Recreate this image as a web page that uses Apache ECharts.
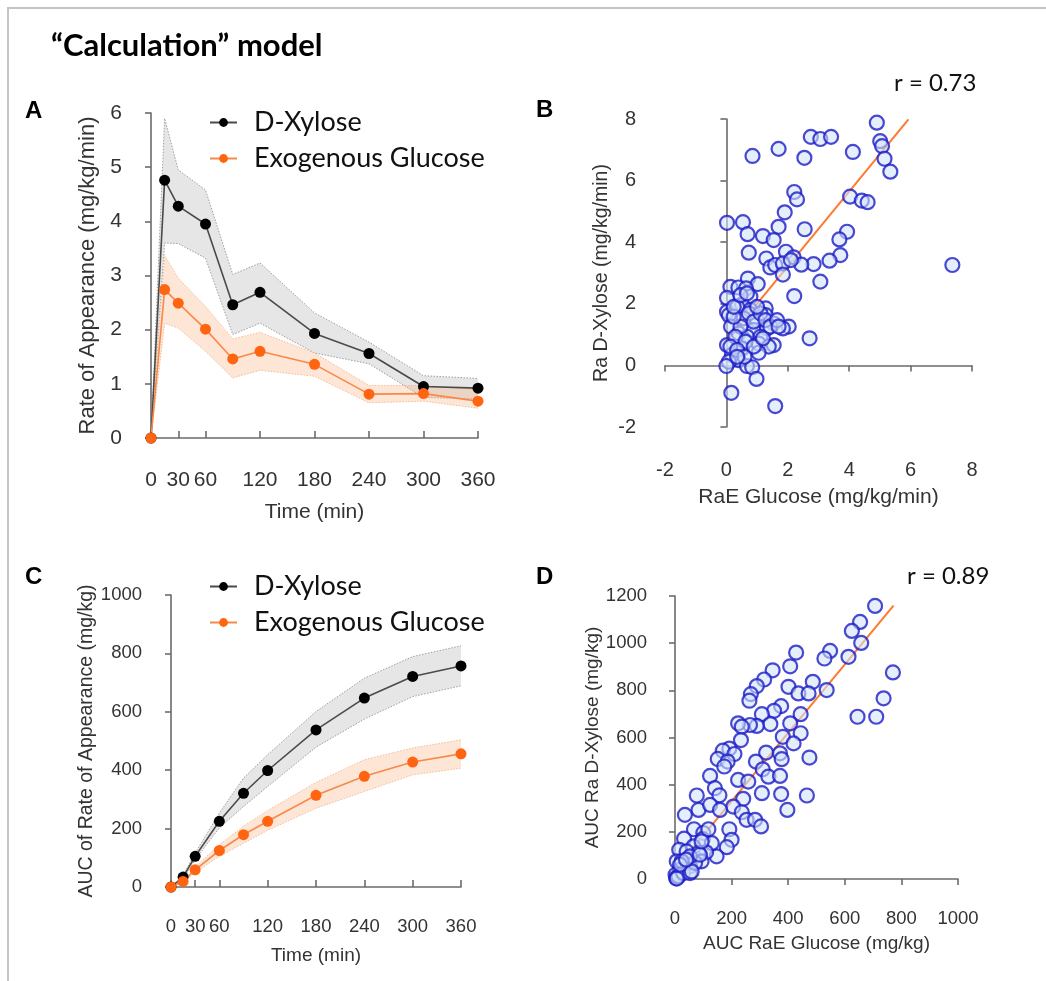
<!DOCTYPE html>
<html>
<head>
<meta charset="utf-8">
<script src="https://cdn.jsdelivr.net/npm/echarts@6.0.0/dist/echarts.min.js"></script>
<style>
html,body{margin:0;padding:0;background:#fff;}
#chart{width:1046px;height:981px;}
</style>
</head>
<body>
<div id="chart"></div>
<script>
// ---------- data ----------
const timeMin = [0, 15, 30, 60, 90, 120, 180, 240, 300, 360];
const timeTicks = [0, 30, 60, 120, 180, 240, 300, 360];

// Panel A: rate of appearance (mg/kg/min)
const xyloseRate      = [0, 4.76, 4.28, 3.95, 2.46, 2.69, 1.93, 1.56, 0.95, 0.92];
const xyloseRateUpper = [0, 5.90, 4.95, 4.58, 3.02, 3.23, 2.31, 1.77, 1.15, 1.10];
const xyloseRateLower = [0, 3.60, 3.59, 3.32, 1.91, 2.12, 1.57, 1.37, 0.75, 0.72];
const glucoseRate      = [0, 2.74, 2.49, 2.01, 1.46, 1.60, 1.36, 0.81, 0.82, 0.68];
const glucoseRateUpper = [0, 3.37, 2.95, 2.43, 1.83, 1.95, 1.57, 0.97, 0.97, 0.89];
const glucoseRateLower = [0, 2.12, 2.03, 1.60, 1.11, 1.25, 1.14, 0.65, 0.68, 0.55];

// Panel C: AUC of rate of appearance (mg/kg)
const xyloseAuc      = [0, 34, 105, 225, 321, 399, 538, 647, 721, 757];
const xyloseAucUpper = [0, 40, 116, 253, 373, 453, 601, 715, 789, 826];
const xyloseAucLower = [0, 28, 94, 202, 276, 344, 479, 575, 652, 689];
const glucoseAuc      = [0, 19, 59, 125, 179, 225, 314, 379, 428, 456];
const glucoseAucUpper = [0, 24, 68, 145, 208, 262, 358, 436, 476, 504];
const glucoseAucLower = [0, 15, 50, 105, 150, 194, 270, 327, 384, 407];

// Panel B: RaE glucose vs Ra D-xylose (mg/kg/min)
const rateScatter = [
  [4.90,7.88],[2.75,7.42],[3.06,7.35],[3.41,7.42],[5.01,7.28],[5.07,7.12],[1.70,7.03],[0.85,6.80],
  [2.54,6.74],[4.12,6.93],[5.15,6.71],[5.34,6.29],[2.21,5.63],[2.30,5.39],[4.03,5.48],[4.41,5.35],
  [4.60,5.30],[1.90,4.97],[0.02,4.63],[0.54,4.65],[1.70,4.50],[2.55,4.42],[0.69,4.26],[1.19,4.20],
  [1.54,4.07],[3.93,4.34],[3.68,4.09],[0.73,3.66],[1.94,3.69],[2.19,3.51],[1.30,3.47],[3.71,3.58],
  [3.36,3.40],[2.84,3.29],[2.44,3.27],[1.43,3.18],[1.59,3.26],[1.84,3.31],[2.10,3.42],[1.84,2.95],
  [3.06,2.72],[7.36,3.26],[0.70,2.82],[1.02,2.64],[0.13,2.55],[0.39,2.53],[0.64,2.50],[0.78,2.23],
  [0.02,2.19],[2.21,2.25],[0.51,1.98],[0.02,1.74],[0.08,1.63],[1.28,1.85],[1.28,1.63],[0.78,1.80],
  [0.56,1.53],[1.00,1.47],[1.54,1.36],[2.03,1.26],[1.84,1.20],[0.15,1.26],[0.89,1.15],[1.32,1.20],
  [0.40,1.04],[0.67,0.93],[1.11,0.93],[2.71,0.88],[1.05,0.71],[0.02,0.66],[0.51,0.55],[1.54,0.66],
  [1.38,0.61],[1.05,0.41],[0.18,0.34],[0.40,0.17],[0.08,0.12],[0.67,-0.02],[0.00,-0.02],[0.84,-0.06],
  [0.98,-0.44],[0.16,-0.89],[1.59,-1.32],[0.35,1.90],[0.46,1.26],[0.73,1.69],[0.89,1.42],[1.11,1.69],
  [1.27,1.47],[1.43,1.26],[1.65,1.47],[1.70,1.26],[0.24,1.58],[0.29,0.93],[0.62,0.77],[0.13,0.61],
  [0.35,0.50],[0.89,0.61],[0.59,0.28],[1.19,0.88],[0.24,1.90],[0.46,2.28],[0.67,2.34],[1.00,1.90],
  [0.35,0.28]
];
const rateFit = [[0, 0.79], [5.93, 7.99]];
const rateR = 'r = 0.73';

// Panel D: AUC RaE glucose vs AUC Ra D-xylose (mg/kg)
const aucScatter = [
  [707,1158],[654,1090],[625,1052],[658,1001],[613,942],[428,960],[548,967],[528,935],[345,885],
  [407,902],[315,846],[289,818],[487,836],[401,815],[536,801],[436,787],[472,787],[268,784],[263,756],
  [770,876],[737,766],[645,688],[711,688],[375,733],[350,713],[307,699],[444,699],[337,657],[289,649],
  [265,653],[223,660],[236,646],[407,660],[444,618],[381,603],[419,575],[233,589],[322,536],[371,533],
  [377,508],[475,515],[286,498],[192,553],[169,544],[151,509],[210,530],[186,498],[310,465],[330,434],
  [371,437],[124,437],[174,477],[141,385],[157,355],[223,420],[259,413],[241,340],[307,364],[375,360],
  [466,354],[397,293],[77,354],[83,293],[124,314],[206,307],[159,293],[236,283],[253,251],[283,251],
  [304,223],[192,211],[200,166],[183,135],[147,96],[35,272],[67,211],[32,171],[100,195],[98,169],
  [130,152],[110,113],[65,138],[15,124],[41,117],[83,110],[94,75],[53,54],[6,75],[18,39],[2,18],
  [4,4],[12,11],[29,25],[53,25],[71,68],[53,96],[24,75],[6,2],[59,32],[18,61],[39,82],[88,103],
  [118,211],[94,159]
];
const aucFit = [[0, 40], [772, 1159]];
const aucR = 'r = 0.89';

// ---------- styles ----------
const AX = 'Liberation Sans, Arial, sans-serif';
const CAL = 'Lato, Carlito, sans-serif';
const axisCol = '#6b6b6b';
const txtCol = '#333333';
const blackLine = '#4a4a4a', blackDot = '#000000';
const orangeLine = '#f7894a', orangeDot = '#ff6511';
const grayBand = 'rgba(190,190,190,0.38)', orangeBand = 'rgba(252,165,110,0.28)';
const bandEdge = '#a0a0a0', orangeEdge = '#f5bc98';

const pair = (xs, ys) => xs.map((x, i) => [x, ys[i]]);

function valueAxis(extra, labelSize, nameSize, labelMargin) {
  return Object.assign({
    type: 'value',
    axisLine: { show: true, lineStyle: { color: axisCol, width: 1.6 } },
    axisTick: { show: true, length: 6, lineStyle: { color: axisCol, width: 1.6 } },
    axisLabel: { color: txtCol, fontFamily: AX, fontSize: labelSize, margin: labelMargin, formatter: v => String(v) },
    splitLine: { show: false },
    nameTextStyle: { color: txtCol, fontFamily: AX, fontSize: nameSize },
    nameLocation: 'middle'
  }, extra);
}
function timeAxis(gridIndex, gap, labelSize, nameSize, labelMargin) {
  return valueAxis({
    gridIndex, min: 0, max: 360, interval: 30, offset: 21,
    name: 'Time (min)', nameGap: gap,
    axisTick: { show: true, inside: true, length: 7, customValues: timeTicks, lineStyle: { color: axisCol, width: 1.6 } },
    axisLabel: { color: txtCol, fontFamily: AX, fontSize: labelSize, margin: labelMargin, customValues: timeTicks, formatter: v => String(v) }
  }, labelSize, nameSize, labelMargin);
}

// shaded SEM band drawn as a polygon through the library's coordinate mapping
function bandSeries(axisIdx, lower, upper, fill, edge) {
  return {
    type: 'custom', xAxisIndex: axisIdx, yAxisIndex: axisIdx, silent: true, z: 1,
    data: timeMin.map((t, i) => [t, lower[i], upper[i]]),
    encode: { x: 0, y: [1, 2] },
    renderItem: function (params, api) {
      if (params.dataIndex !== 0) return null;
      const up = timeMin.map((t, i) => api.coord([t, upper[i]]));
      const lo = timeMin.map((t, i) => api.coord([t, lower[i]]));
      return {
        type: 'group',
        children: [
          { type: 'polygon', shape: { points: up.concat(lo.slice().reverse()) },
            style: { fill: fill, stroke: null } },
          { type: 'polyline', shape: { points: up },
            style: { fill: null, stroke: edge, lineWidth: 1, lineDash: [1.5, 1.5] } },
          { type: 'polyline', shape: { points: lo },
            style: { fill: null, stroke: edge, lineWidth: 1, lineDash: [1.5, 1.5] } }
        ]
      };
    }
  };
}
function meanSeries(name, axisIdx, vals, lineCol, dotCol) {
  return { name, type: 'line', xAxisIndex: axisIdx, yAxisIndex: axisIdx, data: pair(timeMin, vals),
    symbol: 'circle', symbolSize: 11, z: 5,
    lineStyle: { color: lineCol, width: 1.6 }, itemStyle: { color: dotCol } };
}
function scatterSeries(axisIdx, data) {
  return { type: 'scatter', xAxisIndex: axisIdx, yAxisIndex: axisIdx, data, symbolSize: 14, z: 3,
    itemStyle: { color: 'rgba(210,228,250,0.72)', borderColor: '#1c1cc6', borderWidth: 2.2 } };
}
function fitSeries(axisIdx, data) {
  return { type: 'line', xAxisIndex: axisIdx, yAxisIndex: axisIdx, data, symbol: 'none', z: 2,
    lineStyle: { color: '#ff7a2e', width: 2 } };
}

const legendStyle = {
  orient: 'vertical', itemWidth: 27, itemHeight: 11, itemGap: 9,
  textStyle: { fontFamily: CAL, fontSize: 27, color: '#111', padding: [0, 0, 0, 12] },
  data: ['D-Xylose', 'Exogenous Glucose']
};

const option = {
  backgroundColor: '#ffffff',
  animation: false,
  title: { text: '\u201cCalculation\u201d model', left: 46, top: 25,
    textStyle: { fontFamily: CAL, fontWeight: 'bold', fontSize: 31, color: '#000' } },
  legend: [
    Object.assign({ left: 204, top: 104 }, legendStyle),
    Object.assign({ left: 204, top: 568 }, legendStyle)
  ],
  grid: [
    { left: 151, right: 568, top: 113, bottom: 543 },
    { left: 665, right: 74, top: 119, bottom: 554 },
    { left: 171, right: 585, top: 595, bottom: 94 },
    { left: 675, right: 88, top: 596, bottom: 102 }
  ],
  xAxis: [
    timeAxis(0, 43, 21, 21, 11),
    valueAxis({ gridIndex: 1, min: -2, max: 8, interval: 2, offset: 22,
      name: 'RaE Glucose (mg/kg/min)', nameGap: 38 }, 20, 21, 11),
    timeAxis(2, 38, 18.5, 19, 9),
    valueAxis({ gridIndex: 3, min: 0, max: 1000, interval: 200, offset: 21,
      name: 'AUC RaE Glucose (mg/kg)', nameGap: 34 }, 18.5, 19, 9)
  ],
  yAxis: [
    valueAxis({ gridIndex: 0, min: 0, max: 6, interval: 1, offset: 22,
      name: 'Rate of Appearance (mg/kg/min)', nameGap: 30 }, 21, 22, 7),
    valueAxis({ gridIndex: 1, min: -2, max: 8, interval: 2, offset: 22,
      name: 'Ra D-Xylose (mg/kg/min)', nameGap: 31 }, 20, 19.5, 7),
    valueAxis({ gridIndex: 2, min: 0, max: 1000, interval: 200, offset: 21,
      name: 'AUC of Rate of Appearance (mg/kg)', nameGap: 43 }, 18.5, 19.5, 8),
    valueAxis({ gridIndex: 3, min: 0, max: 1200, interval: 200, offset: 21,
      name: 'AUC Ra D-Xylose (mg/kg)', nameGap: 43 }, 18.5, 19, 7)
  ],
  graphic: [
    { type: 'line', shape: { x1: 7, y1: 8, x2: 1046, y2: 8 }, style: { stroke: '#c4c4c4', lineWidth: 2 } },
    { type: 'line', shape: { x1: 8, y1: 7, x2: 8, y2: 981 }, style: { stroke: '#c4c4c4', lineWidth: 2 } },
    { type: 'text', left: 25, top: 99, style: { text: 'A', font: 'bold 24px ' + AX, fill: '#000' } },
    { type: 'text', left: 536, top: 98, style: { text: 'B', font: 'bold 24px ' + AX, fill: '#000' } },
    { type: 'text', left: 25, top: 565, style: { text: 'C', font: 'bold 24px ' + AX, fill: '#000' } },
    { type: 'text', left: 536, top: 565, style: { text: 'D', font: 'bold 24px ' + AX, fill: '#000' } },
    { type: 'text', left: 894, top: 71, style: { text: rateR, font: '24px ' + CAL, fill: '#111' } },
    { type: 'text', left: 907, top: 564, style: { text: aucR, font: '24px ' + CAL, fill: '#111' } }
  ],
  series: [
    bandSeries(0, xyloseRateLower, xyloseRateUpper, grayBand, bandEdge),
    bandSeries(0, glucoseRateLower, glucoseRateUpper, orangeBand, orangeEdge),
    meanSeries('D-Xylose', 0, xyloseRate, blackLine, blackDot),
    meanSeries('Exogenous Glucose', 0, glucoseRate, orangeLine, orangeDot),
    scatterSeries(1, rateScatter),
    fitSeries(1, rateFit),
    bandSeries(2, xyloseAucLower, xyloseAucUpper, grayBand, bandEdge),
    bandSeries(2, glucoseAucLower, glucoseAucUpper, orangeBand, orangeEdge),
    meanSeries('D-Xylose', 2, xyloseAuc, blackLine, blackDot),
    meanSeries('Exogenous Glucose', 2, glucoseAuc, orangeLine, orangeDot),
    scatterSeries(3, aucScatter),
    fitSeries(3, aucFit)
  ]
};

const chart = echarts.init(document.getElementById('chart'), null, { renderer: 'canvas' });
chart.setOption(option);
</script>
</body>
</html>
